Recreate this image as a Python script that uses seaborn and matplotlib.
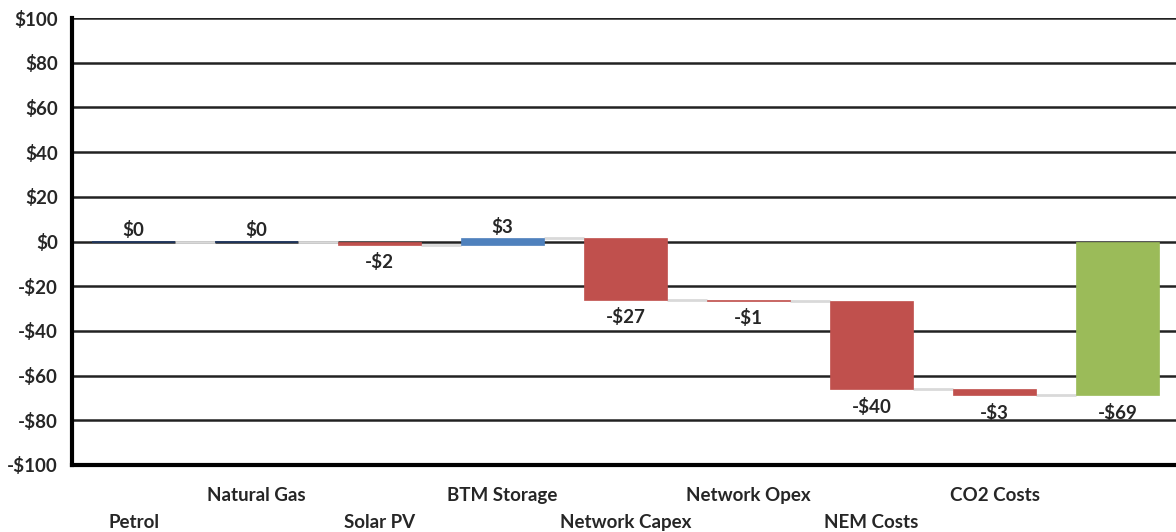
import numpy as np
import pandas as pd
import matplotlib
matplotlib.use("Agg")
import matplotlib.pyplot as plt
import seaborn as sns

categories = ["Petrol", "Natural Gas", "Solar PV", "BTM Storage", "Network Capex",
              "Network Opex", "NEM Costs", "CO2 Costs", "Total"]
tick_labels = ["Petrol", "Natural Gas", "Solar PV", "BTM Storage", "Network Capex",
               "Network Opex", "NEM Costs", "CO2 Costs", ""]
steps = [0.0, 0.0, -1.6, 3.0, -27.4, -0.6, -39.6, -2.7]

y_ticks = [-100, -80, -60, -40, -20, 0, 20, 40, 60, 80, 100]

RED = "#C0504D"
BLUE = "#4F81BD"
GREEN = "#9BBB59"
ZERO = "#1F3864"

total = float(np.sum(steps))
ends = np.cumsum(steps)
starts = np.concatenate([[0.0], ends[:-1]])
heights = list(steps) + [total]
bases = list(starts) + [0.0]
colors = []
for s in steps:
    colors.append(ZERO if s == 0 else (BLUE if s > 0 else RED))
colors.append(GREEN)

df = pd.DataFrame({"cat": categories, "height": heights})

sns.set_style("white")
plt.rcParams["font.family"] = ["Lato", "DejaVu Sans"]
plt.rcParams["font.weight"] = "bold"

FS = 13.5

fig = plt.figure(figsize=(11.76, 5.32), dpi=100)
ax = fig.add_axes([72 / 1176, 1 - 465 / 532, 1107 / 1176, 447 / 532])

W = 0.67
sns.barplot(data=df, x="cat", y="height", order=categories, width=W,
            color=RED, saturation=1, ax=ax, zorder=3)

for p, b, c, h in zip(ax.patches, bases, colors, heights):
    p.set_y(b)
    p.set_facecolor(c)
    p.set_edgecolor(c)
    p.set_linewidth(1.2 if h == 0 else 0.5)

# connectors
levels = list(ends)
for i, lev in enumerate(levels):
    ax.plot([i + W / 2, i + 1 - W / 2], [lev, lev], color="#D9D9D9", lw=2, zorder=2,
            solid_capstyle="butt")

# value labels
for i, (h, b) in enumerate(zip(heights, bases)):
    v = int(round(h))
    txt = f"-${abs(v)}" if v < 0 else f"${v}"
    if h >= 0:
        ax.annotate(txt, (i, b + h), xytext=(0, 2), textcoords="offset points",
                    ha="center", va="bottom", fontsize=FS, fontweight="bold")
    else:
        ax.annotate(txt, (i, b + h), xytext=(0, -6), textcoords="offset points",
                    ha="center", va="top", fontsize=FS, fontweight="bold")

ax.set_ylim(-100, 100)
ax.set_xlim(-0.5, len(categories) - 0.5)
ax.set_yticks(y_ticks)
ax.set_yticklabels([f"-${abs(t)}" if t < 0 else f"${t}" for t in y_ticks],
                   fontsize=FS, fontweight="bold")
ax.yaxis.grid(True, color="#222222", lw=1.8, zorder=0)
ax.set_axisbelow(True)

# x ticks at slot boundaries, labels staggered
ax.set_xticks(np.arange(len(categories) + 1) - 0.5)
ax.set_xticklabels([])
ax.tick_params(axis="x", direction="out", length=5, width=2.5, color="black")
ax.tick_params(axis="y", direction="out", length=5, width=2.5, color="black", pad=5)
trans = ax.get_xaxis_transform()
for i, lab in enumerate(tick_labels):
    y_off = -0.068 if i % 2 == 1 else -0.128
    ax.text(i, y_off, lab, transform=trans, ha="center", va="center",
            fontsize=FS, fontweight="bold")

for s in ["top", "right"]:
    ax.spines[s].set_visible(False)
ax.spines["left"].set_linewidth(3)
ax.spines["bottom"].set_linewidth(3)
ax.spines["left"].set_color("black")
ax.spines["bottom"].set_color("black")
ax.set_xlabel("")
ax.set_ylabel("")

fig.savefig("out.png", dpi=100)
